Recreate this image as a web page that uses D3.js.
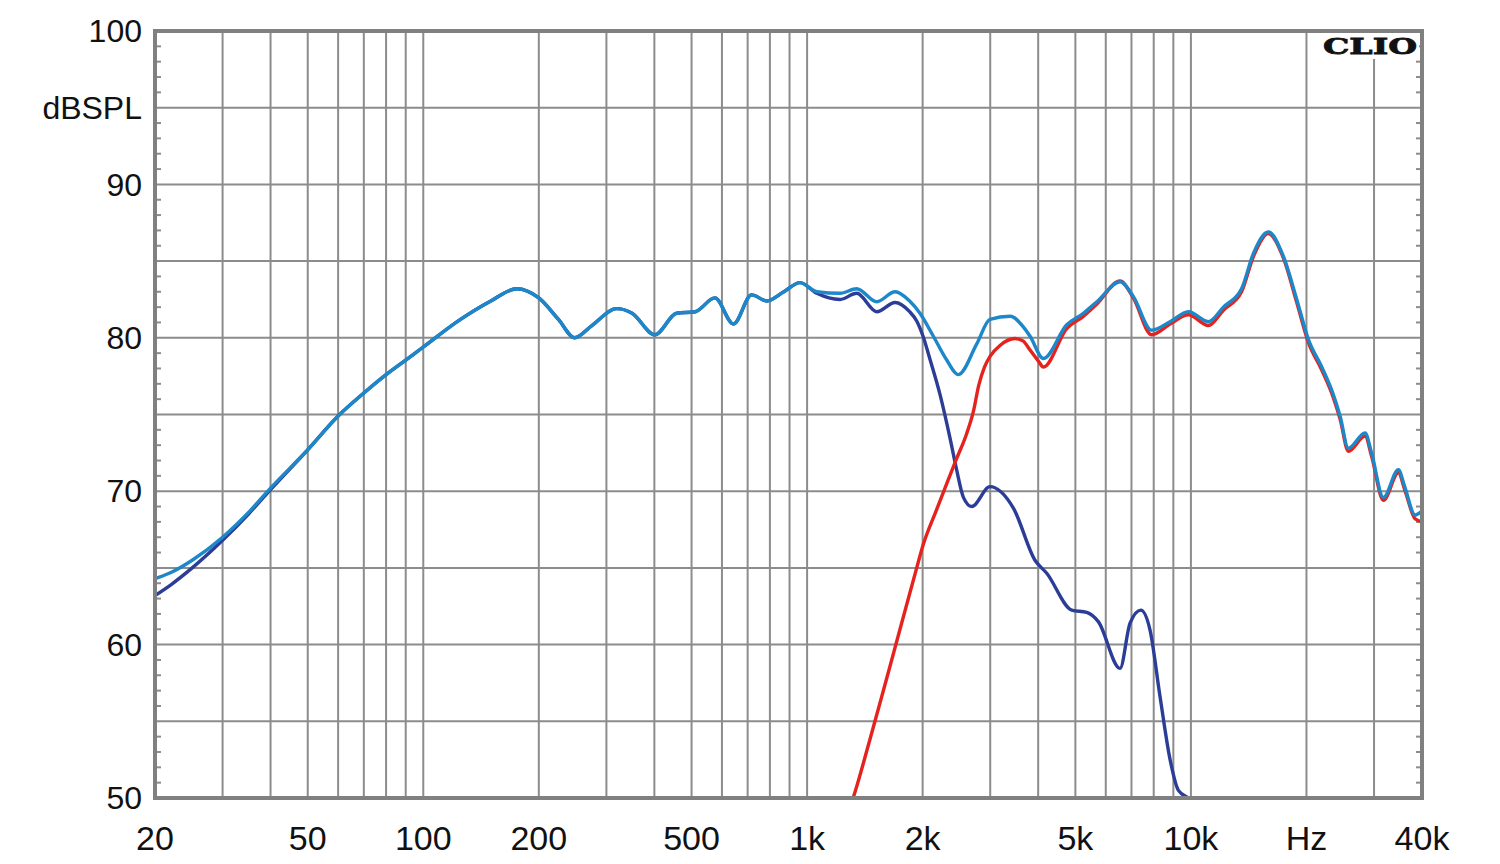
<!DOCTYPE html>
<html>
<head>
<meta charset="utf-8">
<script src="https://cdn.jsdelivr.net/npm/d3@7"></script>
<style>
  body { margin: 0; background: white; }
  text { font-family: "Liberation Sans", Arial, sans-serif; fill: #111; }
</style>
</head>
<body>
<svg id="chart"></svg>
<script>
// frequency response, values as [Hz, dBSPL]
const sumCurve = [
    [20, 64.3], [22, 64.7], [25, 65.5], [30, 67.0], [35, 68.6], [40, 70.2],
    [50, 72.7], [60, 74.9], [70, 76.4], [80, 77.6], [90, 78.55], [100, 79.4],
    [125, 81.2], [150, 82.4], [175, 83.2], [200, 82.6], [225, 81.2], [248, 80.0],
    [275, 80.8], [319, 81.9], [350, 81.6], [401, 80.2], [457, 81.6], [511, 81.7],
    [575, 82.6], [643, 80.9], [717, 82.8], [785, 82.4], [870, 83.0], [958, 83.6],
    [1060, 83.0], [1219, 82.9], [1347, 83.2], [1519, 82.35], [1695, 83.0],
    [1850, 82.4], [1968, 81.6], [2133, 80.1], [2311, 78.55], [2478, 77.6],
    [2767, 79.6], [2995, 81.2], [3380, 81.4], [3662, 80.7], [3810, 80.1],
    [4128, 78.65], [4747, 80.85], [5245, 81.6], [5689, 82.35], [6536, 83.65],
    [7078, 82.7], [7897, 80.5], [8825, 81.05], [9850, 81.7], [11100, 81.05],
    [12150, 82.0], [13550, 83.2], [14550, 85.5], [15910, 86.9], [17420, 85.3],
    [18870, 82.5], [20230, 79.9], [21920, 78.1], [23500, 76.3], [24470, 74.9],
    [25720, 72.8], [28430, 73.8], [29550, 72.5], [31740, 69.6], [34720, 71.4],
    [36050, 70.3], [38380, 68.45], [40000, 68.7]
];

const wooferCurve = [
    [20, 63.2], [22, 63.9], [25, 65.0], [30, 66.8], [35, 68.5], [40, 70.1],
    [50, 72.7], [60, 74.9], [70, 76.4], [80, 77.6], [90, 78.55], [100, 79.4],
    [125, 81.2], [150, 82.4], [175, 83.2], [200, 82.6], [225, 81.2], [248, 80.0],
    [275, 80.8], [319, 81.9], [350, 81.6], [401, 80.2], [457, 81.6], [511, 81.7],
    [575, 82.6], [643, 80.9], [717, 82.8], [785, 82.4], [870, 83.0], [958, 83.6],
    [1060, 82.9], [1219, 82.5], [1347, 82.9], [1519, 81.7], [1695, 82.3],
    [1850, 81.7], [1930, 81.1], [2005, 80.1], [2090, 78.6], [2220, 76.3],
    [2360, 73.4], [2452, 71.4], [2554, 69.6], [2685, 69.0], [2995, 70.3],
    [3447, 68.9], [3924, 65.5], [4211, 64.65], [4891, 62.25], [5352, 62.1],
    [5738, 61.5], [6536, 58.45], [6940, 61.4], [7403, 62.25], [7825, 60.95],
    [8310, 56.6], [8825, 52.5], [9277, 50.5], [9850, 50.0], [10500, 49.6]
];

const tweeterCurve = [
    [1250, 48.4], [1318, 50.0], [1450, 53.6], [1600, 57.5], [1746, 61.0],
    [1930, 65.0], [2000, 66.4], [2175, 68.8], [2311, 70.5], [2450, 72.1],
    [2600, 73.7], [2712, 75.2], [2800, 76.9], [2900, 78.1], [3000, 78.8],
    [3181, 79.5], [3482, 79.95], [3650, 79.8], [3810, 79.2], [4000, 78.5],
    [4128, 78.1], [4747, 80.6], [5245, 81.4], [5689, 82.2], [6536, 83.7],
    [7078, 82.6], [7897, 80.2], [8825, 80.9], [9850, 81.5], [11100, 80.8],
    [12150, 81.8], [13550, 83.0], [14550, 85.3], [15910, 86.8], [17420, 85.2],
    [18870, 82.3], [20230, 79.7], [21920, 77.9], [23500, 76.1], [24470, 74.7],
    [25720, 72.6], [28430, 73.6], [29550, 72.3], [31740, 69.4], [34720, 71.2],
    [36050, 70.1], [38380, 68.2], [40000, 68.0]
];

const xTickValues = [20, 50, 100, 200, 500, 1000, 2000, 5000, 10000, 20000, 40000];
const xTickLabels = ["20", "50", "100", "200", "500", "1k", "2k", "5k", "10k", "Hz", "40k"];
const yTickValues = [100, 90, 80, 70, 60, 50];

var dimensions = {
    width: 1500,
    height: 864,
    margin: { top: 31, bottom: 66, left: 155, right: 78 }
};

var svg = d3.select("#chart")
    .attr("width", dimensions.width)
    .attr("height", dimensions.height);

var xScale = d3.scaleLog()
    .domain([20, 40000])
    .range([dimensions.margin.left, dimensions.width - dimensions.margin.right]);

var yScale = d3.scaleLinear()
    .domain([50, 100])
    .range([dimensions.height - dimensions.margin.bottom, dimensions.margin.top]);

var x0 = xScale.range()[0], x1 = xScale.range()[1];
var y0 = yScale.range()[0], y1 = yScale.range()[1];

// vertical grid: every 1..9 multiple of each decade inside the range
var gridFreqs = [];
[10, 100, 1000, 10000].forEach(dec => {
    d3.range(1, 10).forEach(m => {
        var f = dec * m;
        if (f > 20 && f < 40000) gridFreqs.push(f);
    });
});

svg.append("g")
    .selectAll("line")
    .data(gridFreqs)
    .enter()
    .append("line")
    .attr("x1", d => xScale(d))
    .attr("x2", d => xScale(d))
    .attr("y1", y1)
    .attr("y2", y0)
    .attr("stroke", "#8c8c8c")
    .attr("stroke-width", 2);

// horizontal grid every 5 dB
svg.append("g")
    .selectAll("line")
    .data(d3.range(55, 100, 5))
    .enter()
    .append("line")
    .attr("x1", x0)
    .attr("x2", x1)
    .attr("y1", d => yScale(d))
    .attr("y2", d => yScale(d))
    .attr("stroke", "#8c8c8c")
    .attr("stroke-width", 2);

// small 1 dB ticks on both sides
var minor = d3.range(51, 100).filter(d => d % 5 !== 0);
svg.append("g")
    .selectAll("line")
    .data(minor)
    .enter()
    .append("line")
    .attr("x1", x0)
    .attr("x2", x0 + 6)
    .attr("y1", d => yScale(d))
    .attr("y2", d => yScale(d))
    .attr("stroke", "#8c8c8c")
    .attr("stroke-width", 2);

svg.append("g")
    .selectAll("line")
    .data(minor)
    .enter()
    .append("line")
    .attr("x1", x1 - 6)
    .attr("x2", x1)
    .attr("y1", d => yScale(d))
    .attr("y2", d => yScale(d))
    .attr("stroke", "#8c8c8c")
    .attr("stroke-width", 2);

// CLIO badge
svg.append("rect")
    .attr("x", 1318)
    .attr("y", 33)
    .attr("width", 101)
    .attr("height", 26)
    .attr("fill", "white");

svg.append("text")
    .attr("x", 1323)
    .attr("y", 54)
    .attr("textLength", 94)
    .attr("lengthAdjust", "spacingAndGlyphs")
    .style("font-family", "'DejaVu Serif', serif")
    .style("font-weight", "bold")
    .style("font-size", "23px")
    .style("stroke", "#111")
    .style("stroke-width", 0.8)
    .text("CLIO");

// curves
svg.append("clipPath")
    .attr("id", "plot-clip")
    .append("rect")
    .attr("x", x0)
    .attr("y", y1)
    .attr("width", x1 - x0)
    .attr("height", y0 - y1);

var line = d3.line()
    .x(d => xScale(d[0]))
    .y(d => yScale(d[1]))
    .curve(d3.curveMonotoneX);

var curves = [
    { data: wooferCurve, color: "#2b3d96" },
    { data: tweeterCurve, color: "#e5231e" },
    { data: sumCurve, color: "#1c87c9" }
];

svg.append("g")
    .attr("clip-path", "url(#plot-clip)")
    .selectAll("path")
    .data(curves)
    .enter()
    .append("path")
    .attr("d", d => line(d.data))
    .attr("fill", "none")
    .attr("stroke", d => d.color)
    .attr("stroke-width", 3.4)
    .attr("stroke-linejoin", "round");

// frame
svg.append("rect")
    .attr("x", x0)
    .attr("y", y1)
    .attr("width", x1 - x0)
    .attr("height", y0 - y1)
    .attr("fill", "none")
    .attr("stroke", "#808080")
    .attr("stroke-width", 4);

// x labels
svg.append("g")
    .selectAll("text")
    .data(xTickValues)
    .enter()
    .append("text")
    .attr("x", d => xScale(d))
    .attr("y", 850)
    .attr("text-anchor", "middle")
    .style("font-size", "34px")
    .text((d, i) => xTickLabels[i]);

// y labels
svg.append("g")
    .selectAll("text")
    .data(yTickValues)
    .enter()
    .append("text")
    .attr("x", 142)
    .attr("y", d => yScale(d))
    .attr("dy", "0.35em")
    .attr("text-anchor", "end")
    .style("font-size", "32px")
    .text(d => d);

svg.append("text")
    .attr("x", 142)
    .attr("y", yScale(95))
    .attr("dy", "0.35em")
    .attr("text-anchor", "end")
    .style("font-size", "32px")
    .text("dBSPL");
</script>
</body>
</html>
